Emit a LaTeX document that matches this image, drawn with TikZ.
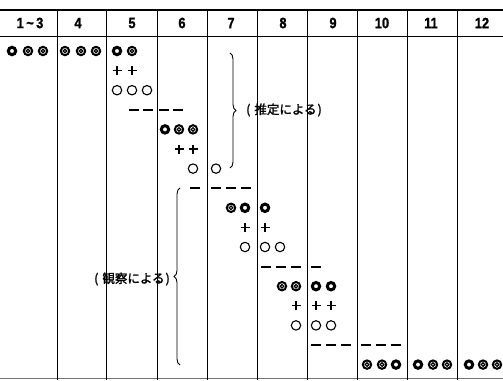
\documentclass[tikz,border=0pt]{standalone}
\usepackage{fontspec}
\usetikzlibrary{decorations.pathreplacing}
\newfontfamily\hdrfont[FakeStretch=0.85,FakeBold=1.2]{Liberation Sans}
\newfontfamily\jpfont[FakeBold=1.6]{Noto Sans CJK JP}
\tikzset{
  gridline/.style={line width=0.9pt, black},
  hdr/.style={font=\hdrfont\bfseries\fontsize{15}{16}\selectfont, inner sep=0pt},
  jplabel/.style={font=\jpfont\fontsize{12.5}{14}\selectfont, inner sep=0pt},
  bracestyle/.style={line width=0.9pt, decorate, decoration={brace, amplitude=6pt}},
  pics/sbold/.style={code={\draw[line width=3pt] (0,0) circle[radius=3.7pt];}},
  pics/sdbl/.style={code={\draw[line width=2pt] (0,0) circle[radius=4.2pt];
                          \draw[line width=1.2pt] (0,0) circle[radius=1.8pt];}},
  pics/scirc/.style={code={\draw[line width=1.1pt] (0,0) circle[radius=4.7pt];}},
  pics/splus/.style={code={\draw[line width=1.3pt] (-4.5pt,0) -- (4.5pt,0) (0,-4.5pt) -- (0,4.5pt);}},
  pics/sdash/.style={code={\draw[line width=1.9pt] (-5pt,0) -- (5pt,0);}},
}
\begin{document}
\begin{tikzpicture}[x=1pt,y=-1pt]
\useasboundingbox (0,0) rectangle (503,380);
% rules
\draw[line width=2.5pt] (0,10) -- (503,10);
\draw[line width=0.9pt] (0,36) -- (503,36);
\draw[line width=0.8pt, black!55] (0,378) -- (503,378);
\foreach \x in {57,106,157,207,257,307,357,407,457}
  \draw[gridline] (\x,10) -- (\x,380);
% header
\foreach \x/\t/\n in {30/1\,\textasciitilde\,3/h1,78/4/h4,132/5/h5,182/6/h6,231/7/h7,283/8/h8,333/9/h9,382/10/h10,431/11/h11,482/12/h12}
  \node[hdr] (\n) at (\x,23) {\t};
% symbols: type/x/row
\foreach \s/\x/\k in {
  sbold/12/0, sdbl/28/0, sdbl/43/0, sdbl/65/0, sdbl/81/0, sdbl/96/0, sbold/117/0, sdbl/132/0,
  splus/117/1, splus/132/1,
  scirc/117/2, scirc/132/2, scirc/147/2,
  sdash/134/3, sdash/148/3, sdash/164/3, sdash/178/3,
  sbold/165/4, sdbl/179/4, sdbl/193/4,
  splus/179/5, splus/193/5,
  scirc/193/6, scirc/216/6,
  sdash/195/7, sdash/216/7, sdash/231/7, sdash/246/7,
  sdbl/231/8, sbold/245/8, sbold/265/8,
  splus/245/9, splus/265/9,
  scirc/245/10, scirc/265/10, scirc/280/10,
  sdash/266/11, sdash/281/11, sdash/296/11, sdash/316/11,
  sdbl/282/12, sdbl/296/12, sbold/316/12, sbold/331/12,
  splus/296/13, splus/316/13, splus/331/13,
  scirc/296/14, scirc/316/14, scirc/331/14,
  sdash/316/15, sdash/331/15, sdash/346/15, sdash/366/15, sdash/381/15, sdash/396/15,
  sdbl/367/16, sdbl/382/16, sbold/396/16, sbold/418/16, sdbl/433/16, sdbl/447/16,
  sbold/469/16, sdbl/483/16, sdbl/497/16}
  \pic at (\x,{51+19.6*\k}) {\s};
% braces and labels
\coordinate (bA1) at (230,53);
\coordinate (bA2) at (230,168);
\draw[bracestyle] (bA1) -- (bA2);
\node[jplabel] (suitei) at (284,110) {(\hspace{4pt}推定による\hspace{1pt})};
\coordinate (bB1) at (180,365);
\coordinate (bB2) at (180,188);
\draw[bracestyle] (bB1) -- (bB2);
\node[jplabel] (kansatsu) at (132,279) {(\hspace{4pt}観察による\hspace{1pt})};
\end{tikzpicture}
\end{document}
